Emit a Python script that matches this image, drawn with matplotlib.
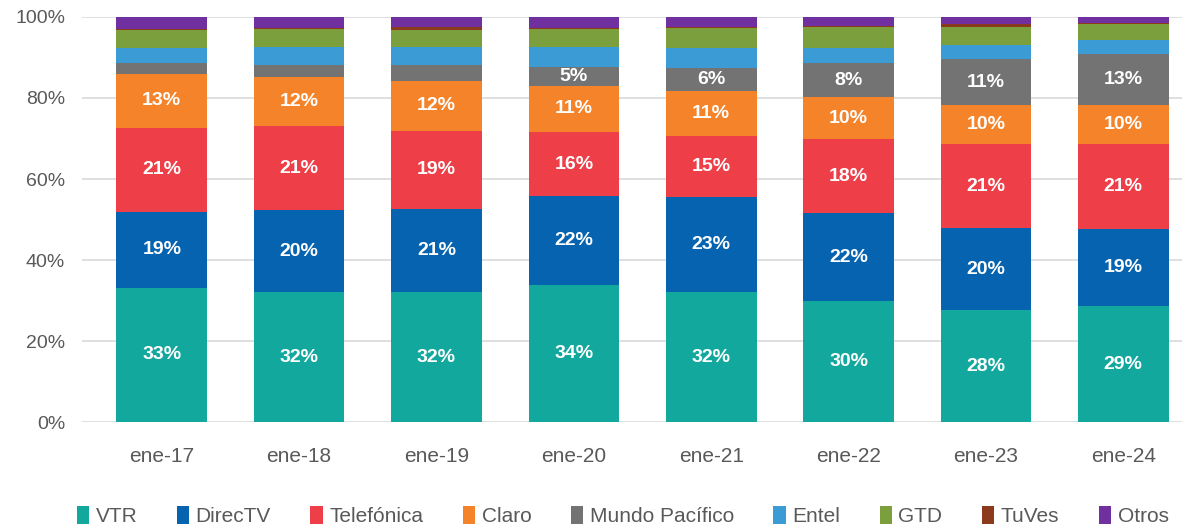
import numpy as np
import matplotlib.pyplot as plt

plt.rcParams['font.family'] = ['Liberation Sans', 'DejaVu Sans']

periods = ['ene-17', 'ene-18', 'ene-19', 'ene-20', 'ene-21', 'ene-22', 'ene-23', 'ene-24']

vtr = [33.2, 32.1, 32.1, 33.8, 32.1, 29.9, 27.6, 28.6]
directv = [18.7, 20.2, 20.6, 22.0, 23.4, 21.6, 20.3, 19.0]
telefonica = [20.8, 20.8, 19.2, 15.8, 15.1, 18.4, 20.7, 21.1]
claro = [13.2, 12.0, 12.4, 11.4, 11.1, 10.3, 9.6, 9.6]
mundo = [2.7, 3.0, 3.8, 4.6, 5.8, 8.4, 11.4, 12.5]
entel = [3.8, 4.6, 4.6, 4.9, 4.9, 3.8, 3.5, 3.4]
gtd = [4.4, 4.3, 4.1, 4.6, 4.8, 5.2, 4.5, 4.1]
tuves = [0.2, 0.2, 0.6, 0.2, 0.2, 0.2, 0.6, 0.1]
otros = [3.0, 2.8, 2.6, 2.7, 2.6, 2.2, 1.8, 1.6]

series = [vtr, directv, telefonica, claro, mundo, entel, gtd, tuves, otros]
names = ['VTR', 'DirecTV', 'Telefónica', 'Claro', 'Mundo Pacífico', 'Entel', 'GTD', 'TuVes', 'Otros']
colors = ['#13A89E', '#0563AF', '#EE3E48', '#F5832A', '#737373', '#3A9BD5', '#7A9F3C', '#8B3A1E', '#7030A0']

fig = plt.figure(figsize=(11.86, 5.29), dpi=100)
ax = fig.add_axes([0.069, 0.202, 0.928, 0.766])

x = np.arange(len(periods))
bottom = np.zeros(len(periods))
for i, (vals, name, col) in enumerate(zip(series, names, colors)):
    pct = np.array(vals)
    vals = pct / 100
    ax.bar(x, vals, 0.66, bottom=bottom, color=col, label=name, zorder=2)
    if i < 5:
        for xi, p, v, b in zip(x, pct, vals, bottom):
            if p >= 4.5:
                ax.text(xi, b + v / 2, f"{int(p + 0.5)}%", ha='center', va='center',
                        color='white', fontsize=14, fontweight='bold', zorder=3)
    bottom += vals

ax.set_ylim(0, 1)
ax.set_xlim(-0.582, 7.431)
ticks = np.arange(0, 101, 20)
ax.set_yticks(ticks / 100)
ax.set_yticklabels([f"{t}%" for t in ticks])
ax.set_xticks(x)
ax.set_xticklabels(periods)
ax.tick_params(axis='y', length=0, labelsize=14, labelcolor='#595959', pad=12)
ax.tick_params(axis='x', length=0, labelsize=15, labelcolor='#595959', pad=18)
ax.grid(axis='y', color='#D9D9D9', linewidth=1.2, zorder=0)
for s in ax.spines.values():
    s.set_visible(False)

fig.legend(loc='lower center', bbox_to_anchor=(0.525, -0.03), ncol=9, frameon=False,
           fontsize=15, handlelength=0.6, handleheight=0.9, handletextpad=0.3,
           columnspacing=1.9, labelcolor='#595959')

fig.savefig('out.png', dpi=100)
